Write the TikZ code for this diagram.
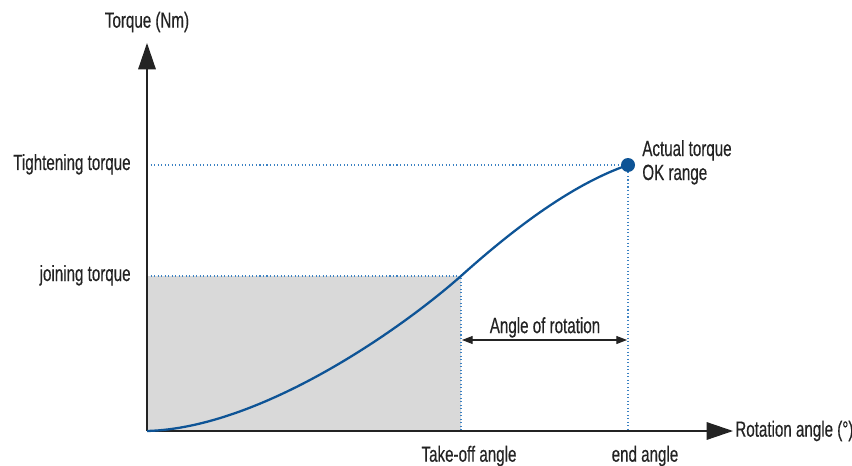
\documentclass[tikz,border=0pt]{standalone}
\usepackage{fontspec}
\setmainfont[FakeStretch=0.69, FakeBold=0.4]{Liberation Sans}
\usetikzlibrary{arrows.meta, positioning, calc}
\definecolor{curveblue}{RGB}{14, 84, 150}
\definecolor{guideblue}{RGB}{60, 130, 195}
\definecolor{areagray}{RGB}{217, 217, 217}
\definecolor{axisgray}{RGB}{35, 35, 35}

\tikzset{
  axis/.style={line width=0.8pt, axisgray, -{Triangle[length=15pt, width=10pt]}},
  guide/.style={guideblue, line width=0.6pt, dash pattern=on 0.6pt off 1.4pt},
  dim/.style={line width=0.6pt, axisgray, {Triangle[length=6pt, width=4.5pt]}-{Triangle[length=6pt, width=4.5pt]}},
  lbl/.style={inner sep=0pt, text=axisgray}
}

\begin{document}
\begin{tikzpicture}[x=0.02cm, y=-0.02cm, font=\fontsize{12.5}{15}\selectfont]
  \useasboundingbox (0,0) rectangle (852,466);

  % key points
  \coordinate (O) at (147,431);
  \coordinate (ytop) at (147,43);
  \coordinate (xend) at (733,431);
  \coordinate (takeoff) at (461,276);
  \coordinate (endpt) at (628,165);
  \coordinate (takeoffx) at (461,431);
  \coordinate (endx) at (628,431);
  \coordinate (joiny) at (147,276);
  \coordinate (tighty) at (147,165);

  % shaded area below joining torque
  \fill[areagray] (O) rectangle (takeoff);

  % dotted guides
  \draw[guide] (joiny) -- (takeoff) -- (takeoffx);
  \draw[guide] (tighty) -- (endpt) -- (endx);

  % axes
  \draw[axis] (O) -- (ytop);
  \draw[axis] (O) -- (xend);

  % torque curve
  \draw[curveblue, line width=1.3pt] (O) .. controls (260,428) and (400,330) .. (takeoff)
    .. controls (510,232) and (570,185) .. (endpt);
  \fill[curveblue] (endpt) circle[radius=0.14cm];

  % angle of rotation
  \coordinate (rotA) at (462,340);
  \coordinate (rotB) at (627,340);
  \draw[dim] (rotA) -- (rotB);
  \node[lbl, anchor=south] (rotlbl) at (545,338) {Angle of rotation};

  % labels
  \node[lbl] (ylbl) at (147,22) {Torque (Nm)};
  \node[lbl, anchor=base east] (tightlbl) at (131,170) {Tightening torque};
  \node[lbl, anchor=base east] (joinlbl) at (131,281) {joining torque};
  \node[lbl, anchor=west] (xlbl) at (735,431) {Rotation angle (°)};
  \node[lbl] (takelbl) at (469,456) {Take-off angle};
  \node[lbl] (endlbl) at (645,456) {end angle};
  \node[lbl, anchor=base west] (actlbl) at (642,156) {Actual torque};
  \node[lbl, anchor=base west] (oklbl) at (642,180) {OK range};
\end{tikzpicture}
\end{document}
